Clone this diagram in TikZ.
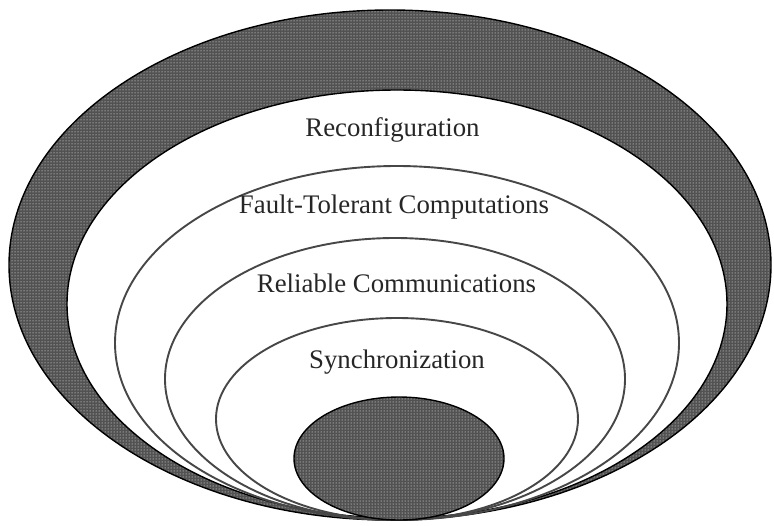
\documentclass[tikz,border=0pt]{standalone}
\usepackage{fontspec}
\usetikzlibrary{patterns}
\setmainfont{Liberation Serif}
\begin{document}
\begin{tikzpicture}[x=1pt,y=-1pt,
  halftone/.style={fill=black!68,postaction={pattern=dots,pattern color=white}},
  rim/.style={draw=black,line width=1.4pt},
  ring/.style={draw=black!72,line width=1.9pt},
  layer/.style={font=\fontsize{26.8}{30}\selectfont,anchor=base,inner sep=0pt,text=black!85}]
\useasboundingbox (0,0) rectangle (774,525);

% outer shaded band
\path[halftone,even odd rule]
  (390,265) ellipse [x radius=381pt,y radius=255pt]
  (397,304) ellipse [x radius=330pt,y radius=214pt];
\draw[rim] (390,265) ellipse [x radius=381pt,y radius=255pt];
\draw[rim] (397,304) ellipse [x radius=330pt,y radius=214pt];

% nested layers, all touching at the bottom
\draw[ring] (397,343) ellipse [x radius=282pt,y radius=177pt];
\draw[ring] (395,379) ellipse [x radius=230pt,y radius=141pt];
\draw[ring] (397,419) ellipse [x radius=181pt,y radius=101pt];

% innermost core
\path[halftone] (399,458.5) ellipse [x radius=105pt,y radius=61.5pt];
\draw[rim] (399,458.5) ellipse [x radius=105pt,y radius=61.5pt];

% layer labels
\node[layer] (reconf) at (392.5,136) {Reconfiguration};
\node[layer] (ftc) at (394,213) {Fault-Tolerant Computations};
\node[layer] (relcom) at (396.5,292) {Reliable Communications};
\node[layer] (sync) at (397,368) {Synchronization};
\end{tikzpicture}
\end{document}
